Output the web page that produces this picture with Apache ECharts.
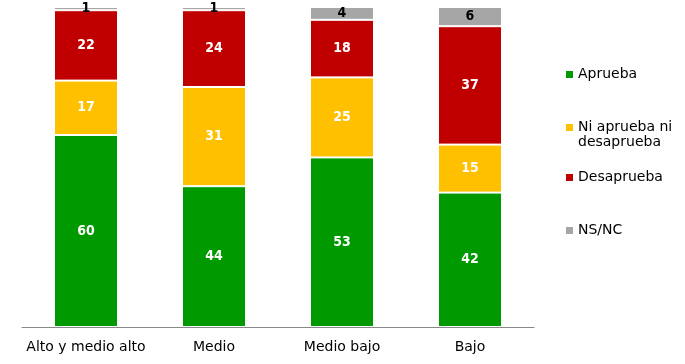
<!DOCTYPE html>
<html>
<head>
<meta charset="utf-8">
<script src="https://cdn.jsdelivr.net/npm/echarts@6/dist/echarts.min.js"></script>
<style>html,body{margin:0;padding:0;background:#fff}#c{width:685px;height:364px}</style>
</head>
<body>
<div id="c"></div>
<script>
var categories = ['Alto y medio alto', 'Medio', 'Medio bajo', 'Bajo'];
var seriesNames = ['Aprueba', 'Ni aprueba ni desaprueba', 'Desaprueba', 'NS/NC'];
var aprueba = [60, 44, 53, 42];
var niNi = [17, 31, 25, 15];
var desaprueba = [22, 24, 18, 37];
var nsnc = [1, 1, 4, 6];

var colors = ['#009900', '#FFC000', '#C00000', '#A6A6A6'];
var values = [aprueba, niNi, desaprueba, nsnc];
var FONT = 'DejaVu Sans';

var series = values.map(function (vals, i) {
  return {
    name: seriesNames[i],
    type: 'bar',
    stack: 'total',
    barWidth: '50%',
    data: vals,
    itemStyle: { color: colors[i], borderColor: '#fff', borderWidth: 1 },
    label: {
      show: true,
      position: 'inside',
      color: i === 3 ? '#000' : '#fff',
      fontWeight: 'bold',
      fontSize: 14,
      fontFamily: 'DejaVu Sans Condensed'
    }
  };
});

var legendTops = [62, 115, 165, 218];
var legends = seriesNames.map(function (n, i) {
  var l = {
    data: [n],
    orient: 'vertical',
    left: 561,
    top: legendTops[i],
    itemWidth: 7,
    itemHeight: 7,
    icon: 'rect',
    itemGap: 5,
    selectedMode: false,
    itemStyle: { borderWidth: 0 },
    textStyle: { fontFamily: FONT, fontSize: 14, color: '#000', lineHeight: 15 }
  };
  if (i === 1) {
    l.formatter = function () { return 'Ni aprueba ni\ndesaprueba'; };
    l.icon = 'path://M0,0L7,0L7,7L0,7Z M0,22L0.001,22L0.001,22.001L0,22.001Z';
    l.itemHeight = 22;
  }
  return l;
});

var chart = echarts.init(document.getElementById('c'));
chart.setOption({
  animation: false,
  grid: { left: 22, right: 151, top: 7, bottom: 37, containLabel: false },
  legend: legends,
  xAxis: {
    type: 'category',
    data: categories,
    axisLine: { lineStyle: { color: '#888', width: 1 } },
    axisTick: { show: false },
    axisLabel: { interval: 0, fontFamily: FONT, fontSize: 14, color: '#000', margin: 13 }
  },
  yAxis: { type: 'value', min: 0, max: 100, show: false, splitLine: { show: false } },
  series: series
});
</script>
</body>
</html>
